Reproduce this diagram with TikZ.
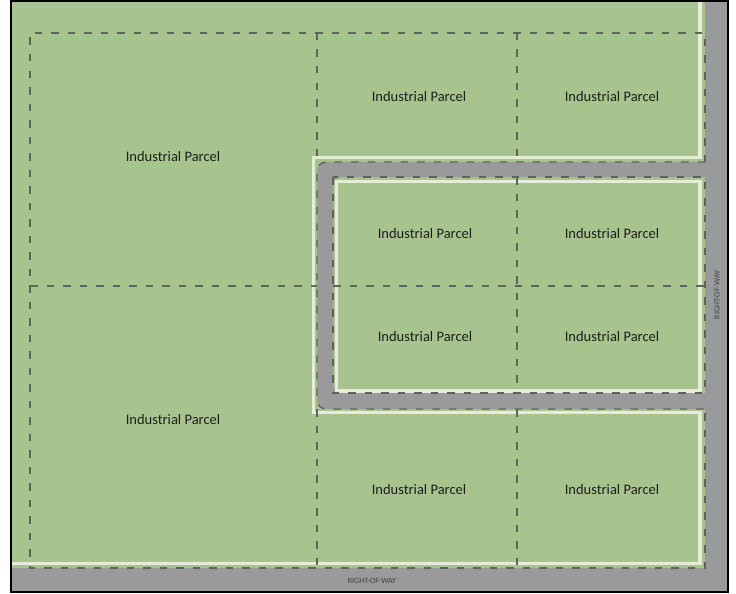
\documentclass[tikz,border=0pt]{standalone}
\usepackage{fontspec}
\setmainfont{Carlito}
\definecolor{lawn}{HTML}{A8C48E}
\definecolor{road}{HTML}{9A9A9C}
\definecolor{curb}{HTML}{E6EBDA}
\definecolor{lotline}{HTML}{5B6658}
\definecolor{ink}{HTML}{1E1E1E}
\tikzset{
  parcel/.style={font=\fontsize{14.5}{16}\selectfont, text=ink},
  rowlabel/.style={font=\fontsize{8}{9}\selectfont, text=ink!85},
  lot/.style={draw=lotline, line width=1.4pt, dash pattern=on 7.5pt off 9pt},
  curbline/.style={draw=curb, line width=3.5pt, miter limit=10}
}
\begin{document}
\begin{tikzpicture}[x=1pt, y=-1pt]
\useasboundingbox (0,0) rectangle (736,594);
\fill[white] (0,0) rectangle (736,594);
% site
\fill[lawn] (11,1) rectangle (728,592);
% loop road inside the site
\fill[road, rounded corners=9pt] (716,162) -- (317,162) -- (317,409) -- (716,409)
  -- (716,393) -- (333,393) -- (333,177) -- (716,177) -- cycle;
% right-of-way along the east and south edges
\fill[road] (705,1) rectangle (728,592);
\fill[road] (11,568) rectangle (728,592);
% curb lines
\draw[curbline] (700,1) -- (700,157.5) -- (313.5,157.5) -- (313.5,412.5)
  -- (700,412.5) -- (700,563.5) -- (11,563.5);
\draw[curbline] (336.5,181.5) rectangle (700,391);
% lot lines
\draw[lot] (705,162) -- (705,33) -- (30,33) -- (30,568) -- (705,568) -- (705,409);
\draw[lot, rounded corners=9pt] (705,162) -- (317,162) -- (317,409) -- (705,409);
\draw[lot] (333,177) rectangle (705,393);
\draw[lot] (317,33) -- (317,162);
\draw[lot] (317,409) -- (317,568);
\draw[lot] (517,33) -- (517,162);
\draw[lot] (517,177) -- (517,393);
\draw[lot] (517,409) -- (517,568);
\draw[lot] (30,286) -- (317,286);
\draw[lot] (333,286) -- (705,286);
% frame
\draw[black, line width=1.6pt] (11,1) rectangle (728,592);
% labels
\node[parcel] (p1) at (173,157) {Industrial Parcel};
\node[parcel] (p2) at (173,420) {Industrial Parcel};
\node[parcel] (p3) at (419,97) {Industrial Parcel};
\node[parcel] (p4) at (612,97) {Industrial Parcel};
\node[parcel] (p5) at (425,234) {Industrial Parcel};
\node[parcel] (p6) at (612,234) {Industrial Parcel};
\node[parcel] (p7) at (425,337) {Industrial Parcel};
\node[parcel] (p8) at (612,337) {Industrial Parcel};
\node[parcel] (p9) at (419,490) {Industrial Parcel};
\node[parcel] (p10) at (612,490) {Industrial Parcel};
\node[rowlabel] (r1) at (372,581) {RIGHT-OF-WAY};
\node[rowlabel, rotate=90] (r2) at (717,295) {RIGHT-OF-WAY};
\end{tikzpicture}
\end{document}
